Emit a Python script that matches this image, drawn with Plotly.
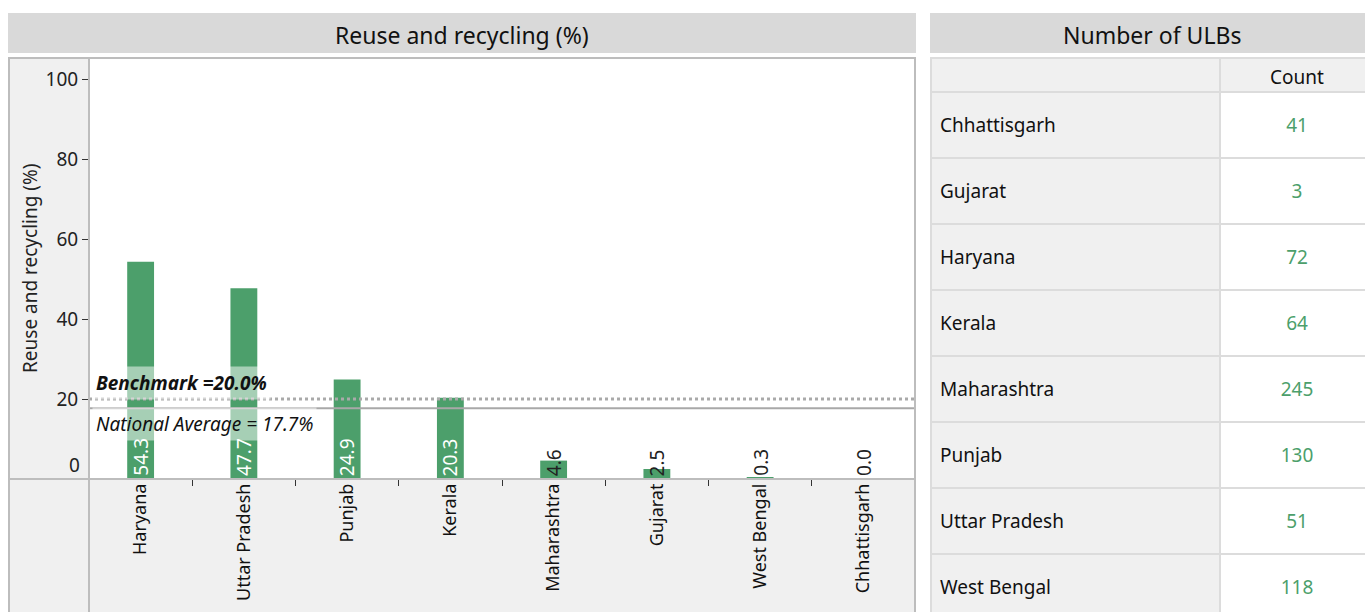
import plotly.graph_objects as go

# ---------------- data ----------------
states = ["Haryana", "Uttar Pradesh", "Punjab", "Kerala", "Maharashtra",
          "Gujarat", "West Bengal", "Chhattisgarh"]
reuse_pct = [54.3, 47.7, 24.9, 20.3, 4.6, 2.5, 0.3, 0.0]
benchmark = 20.0
national_avg = 17.7
y_tick_vals = [20, 40, 60, 80, 100]

table_states = ["Chhattisgarh", "Gujarat", "Haryana", "Kerala", "Maharashtra",
                "Punjab", "Uttar Pradesh", "West Bengal"]
ulb_counts = [41, 3, 72, 64, 245, 130, 51, 118]

# ---------------- layout helpers ----------------
W, H = 1365, 612
def px(x):
    return x / W
def py(y):
    return 1 - y / H

FONT = "Noto Sans"
GREEN = "#4c9f6b"
GRAYBG = "#f0f0f0"
HEADBG = "#d9d9d9"
BORDER = "#bdbdbd"
GRID = "#dcdcdc"

fig = go.Figure()

# bars
fig.add_trace(go.Bar(
    x=states, y=reuse_pct, marker=dict(color=GREEN, line=dict(width=0)),
    width=0.26, xaxis="x", yaxis="y", hoverinfo="x+y", showlegend=False,
))

# value labels
annotations = []
for s, v in zip(states, reuse_pct):
    annotations.append(dict(
        x=s, y=0, xref="x", yref="y", text=f"{v:.1f}", textangle=-90,
        showarrow=False, yanchor="bottom", xanchor="center", yshift=1,
        font=dict(family=FONT, size=19, color="white" if v > 8 else "#222"),
    ))

# benchmark / national average lines
fig.add_trace(go.Scatter(
    x=[0, 1], y=[benchmark, benchmark], xaxis="x3", yaxis="y",
    mode="lines", line=dict(color="#aaaaaa", width=3, dash="dot"),
    hoverinfo="skip", showlegend=False,
))
fig.add_trace(go.Scatter(
    x=[0, 1], y=[national_avg, national_avg], xaxis="x3", yaxis="y",
    mode="lines", line=dict(color="#a8a8a8", width=2),
    hoverinfo="skip", showlegend=False,
))
annotations.append(dict(
    x=px(92), y=benchmark, xref="paper", yref="y",
    text=f"<b><i>Benchmark ={benchmark:.1f}%</i></b>", showarrow=False,
    xanchor="left", yanchor="bottom", yshift=-1, bgcolor="rgba(255,255,255,0.5)",
    borderpad=3, font=dict(family=FONT, size=19, color="#111"),
))
annotations.append(dict(
    x=px(92), y=national_avg, xref="paper", yref="y",
    text=f"<i>National Average = {national_avg:.1f}%</i>", showarrow=False,
    xanchor="left", yanchor="top", yshift=1, bgcolor="rgba(255,255,255,0.5)",
    borderpad=3, font=dict(family=FONT, size=19, color="#111"),
))

# y "0" label (offset upward as in the reference)
annotations.append(dict(
    x=px(82), y=0, xref="paper", yref="y", text="0", showarrow=False,
    xanchor="right", yanchor="bottom", yshift=-1,
    font=dict(family=FONT, size=19, color="#222"),
))
# y axis title
annotations.append(dict(
    x=px(30), y=py(268), xref="paper", yref="paper",
    text="Reuse and recycling (%)", textangle=-90, showarrow=False,
    xanchor="center", yanchor="middle",
    font=dict(family=FONT, size=19, color="#222"),
))
# headers
annotations.append(dict(
    x=px(462), y=py(35), xref="paper", yref="paper",
    text="Reuse and recycling (%)", showarrow=False,
    xanchor="center", yanchor="middle",
    font=dict(family=FONT, size=23, color="#111"),
))
annotations.append(dict(
    x=px(1152), y=py(35), xref="paper", yref="paper",
    text="Number of ULBs", showarrow=False,
    xanchor="center", yanchor="middle",
    font=dict(family=FONT, size=23, color="#111"),
))

# table: row i centred at pixel 127.5 + 66 i
ROW0, ROWH = 127.5, 66.0
annotations.append(dict(
    x=1297 - 930, y=(77 - ROW0) / ROWH, xref="x2", yref="y2",
    text="Count", showarrow=False, xanchor="center", yanchor="middle",
    font=dict(family=FONT, size=19, color="#111"),
))

rows = list(range(len(table_states)))
fig.add_trace(go.Scatter(
    x=[940 - 930] * len(rows), y=rows, text=table_states, mode="text",
    textposition="middle right", xaxis="x2", yaxis="y2",
    textfont=dict(family=FONT, size=19, color="#111"),
    hoverinfo="skip", showlegend=False,
))
fig.add_trace(go.Scatter(
    x=[1297 - 930] * len(rows), y=rows, text=[str(c) for c in ulb_counts],
    mode="text", textposition="middle center", xaxis="x2", yaxis="y2",
    textfont=dict(family=FONT, size=19, color=GREEN),
    hoverinfo="skip", showlegend=False,
))

# ---------------- shapes ----------------
shapes = []
def rect(x0, y0, x1, y1, fill, line=None, layer="below", lw=0):
    shapes.append(dict(type="rect", xref="paper", yref="paper",
                       x0=px(x0), x1=px(x1), y0=py(y1), y1=py(y0),
                       fillcolor=fill, line=dict(width=lw, color=line or fill),
                       layer=layer))
def hline(x0, x1, y, color, w=1, layer="above"):
    shapes.append(dict(type="line", xref="paper", yref="paper",
                       x0=px(x0), x1=px(x1), y0=py(y), y1=py(y),
                       line=dict(color=color, width=w), layer=layer))
def vline(x, y0, y1, color, w=1, layer="above"):
    shapes.append(dict(type="line", xref="paper", yref="paper",
                       x0=px(x), x1=px(x), y0=py(y0), y1=py(y1),
                       line=dict(color=color, width=w), layer=layer))

# left panel
rect(8, 13, 916, 53, HEADBG)
rect(9, 58, 89, 612, GRAYBG)
rect(89, 479, 915, 612, GRAYBG)
vline(9, 57, 612, BORDER, 2)
vline(915, 57, 612, BORDER, 2)
hline(8, 916, 58, BORDER, 2)
hline(9, 915, 479, BORDER, 2)
vline(89, 58, 612, BORDER, 2)

# right panel (table)
rect(930, 13, 1365, 53, HEADBG)
rect(930, 58, 1220, 612, GRAYBG)
rect(1220, 58, 1365, 92, GRAYBG)
hline(930, 1365, 58, GRID, 2)
vline(931, 58, 612, GRID, 2)
vline(1220, 58, 612, GRID, 2)
for i in range(len(table_states)):
    hline(930, 1365, 92 + 66 * i, GRID, 2)

layout = dict(
    width=W, height=H,
    margin=dict(l=0, r=0, t=0, b=0),
    paper_bgcolor="white", plot_bgcolor="rgba(0,0,0,0)",
    font=dict(family=FONT, size=16, color="#222"),
    xaxis=dict(
        domain=[px(89), px(915)], anchor="y", type="category",
        tickangle=-90, ticks="outside", tickson="boundaries", ticklen=6,
        tickcolor="#333", tickwidth=1, showgrid=False, zeroline=False,
        showline=False, tickfont=dict(family=FONT, size=18, color="#111"),
        fixedrange=True,
    ),
    yaxis=dict(
        domain=[py(479), py(58)], anchor="x", range=[0, 105.25],
        tickvals=y_tick_vals, ticks="outside", ticklen=6, tickcolor="#333",
        tickwidth=1, showgrid=False, zeroline=False, showline=False,
        tickfont=dict(family=FONT, size=19, color="#222"), fixedrange=True,
    ),
    xaxis3=dict(domain=[px(89), px(915)], anchor="y", range=[0, 1],
                overlaying="x", visible=False, fixedrange=True),
    xaxis2=dict(domain=[px(930), px(1365)], anchor="y2", range=[0, 435],
                visible=False, fixedrange=True),
    yaxis2=dict(domain=[0, py(58)], anchor="x2",
                range=[(612 - ROW0) / ROWH, (58 - ROW0) / ROWH],
                visible=False, fixedrange=True),
    shapes=shapes,
    annotations=annotations,
)
fig.update_layout(**layout)
fig.write_html("out.html", config={"displayModeBar": False},
               post_script="document.body.style.margin='0';")
